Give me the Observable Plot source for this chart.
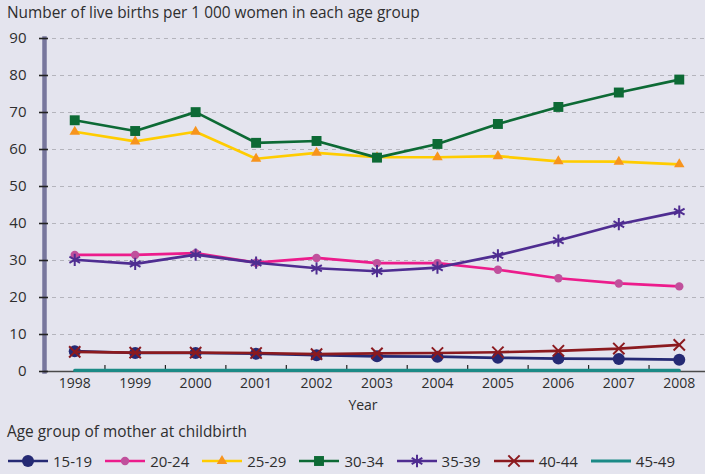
<!DOCTYPE html>
<html><head><meta charset="utf-8">
<script src="https://cdn.jsdelivr.net/npm/d3@7"></script>
<script src="https://cdn.jsdelivr.net/npm/@observablehq/plot@0.6"></script>
<style>
html,body{margin:0;padding:0;background:#e4e4ee;overflow:hidden;width:705px;height:474px;}
body{font-family:"Open Sans",sans-serif;color:#2e2e2e;position:relative;}
#title{position:absolute;left:7px;top:2px;font-size:15.4px;white-space:nowrap;}
#chart{position:absolute;left:0;top:25px;}
#legtitle{position:absolute;left:7px;top:421px;font-size:15.4px;white-space:nowrap;}
#legend{position:absolute;left:8px;top:451px;display:flex;align-items:center;font-size:15px;white-space:nowrap;}
.item{display:flex;align-items:center;margin-right:13px;}
.item svg{margin-right:5px;}
</style></head>
<body>
<div id="title">Number of live births per 1 000 women in each age group</div>
<div id="chart"></div>
<div id="legtitle">Age group of mother at childbirth</div>
<div id="legend"></div>
<script>
const years = [1998,1999,2000,2001,2002,2003,2004,2005,2006,2007,2008];
const ageGroups = ["15-19","20-24","25-29","30-34","35-39","40-44","45-49"];
const a1519 = [5.5,5.0,5.0,4.8,4.4,4.1,4.0,3.7,3.5,3.4,3.2];
const a2024 = [31.5,31.5,32.0,29.4,30.7,29.3,29.3,27.5,25.2,23.8,23.0];
const a2529 = [64.8,62.2,64.8,57.5,59.1,57.9,57.9,58.2,56.8,56.7,56.0];
const a3034 = [67.9,65.0,70.1,61.8,62.3,57.8,61.5,66.9,71.5,75.4,78.9];
const a3539 = [30.2,29.1,31.6,29.4,27.9,27.1,28.1,31.4,35.4,39.8,43.2];
const a4044 = [5.3,5.1,5.1,5.0,4.7,4.9,5.0,5.2,5.6,6.2,7.2];
const a4549 = [0.3,0.3,0.3,0.3,0.3,0.3,0.3,0.3,0.3,0.3,0.3];
const yTicks = [0,10,20,30,40,50,60,70,80,90];

const styles = {
  "15-19": {line:"#252a74", mark:"#252a74", symbol:"circle", r:6, fill:true},
  "20-24": {line:"#ec1c8c", mark:"#c0509c", symbol:"circle", r:4.2, fill:true},
  "25-29": {line:"#ffcc00", mark:"#f7941d", symbol:"triangle", r:3.9, fill:true},
  "30-34": {line:"#0d6a35", mark:"#0d6a35", symbol:"square", r:5.6, fill:true},
  "35-39": {line:"#4f2d91", mark:"#4f2d91", symbol:"asterisk", r:5.8, fill:false},
  "40-44": {line:"#8b1a1f", mark:"#8b1a1f", symbol:"times", r:5.2, fill:false},
  "45-49": {line:"#1b8a86", mark:null}
};
const seriesValues = [a1519,a2024,a2529,a3034,a3539,a4044,a4549];
const rows = [];
ageGroups.forEach((g,i)=>years.forEach((y,j)=>rows.push({group:g, year:y, value:seriesValues[i][j]})));
const boundaries = years.slice(0,-1).map(y=>y+0.5);

const H = 395, mT = 13, mB = 49;
const marks = [
  Plot.gridY(yTicks.filter(d=>d>0), {stroke:"#b4b4bc", strokeOpacity:1, strokeDasharray:"4,4", strokeWidth:1}),
  Plot.frame({anchor:"left", stroke:"#77769c", strokeWidth:4.5}),
  Plot.ruleY([0], {stroke:"#4a4a4a", strokeWidth:1.3}),
  Plot.tickX(boundaries, {x:d=>d, stroke:"#222", strokeWidth:1.2, insetTop:H-mT-mB-6}),
  Plot.axisY({ticks:yTicks, tickSize:9, dx:4, tickPadding:13, fontSize:15, stroke:"#222", strokeWidth:1.6, color:"#2e2e2e", label:null}),
  Plot.axisX({ticks:years, tickSize:0, tickPadding:7, fontSize:14, tickFormat:d=>String(d), label:null}),
  Plot.text(["Year"], {frameAnchor:"bottom", dy:38, dx:-12, fontSize:14, fill:"#2e2e2e"})
];
ageGroups.forEach(g=>{
  const s = styles[g];
  const data = rows.filter(d=>d.group===g);
  marks.push(Plot.line(data, {x:"year", y:"value", stroke:s.line, strokeWidth:g==="45-49"?3.2:2.7}));
  if (s.mark) {
    marks.push(Plot.dot(data, s.fill
      ? {x:"year", y:"value", symbol:()=>s.symbol, r:s.r, fill:s.mark, stroke:"none"}
      : {x:"year", y:"value", symbol:()=>s.symbol, r:s.r, stroke:s.mark, strokeWidth:2, fill:"none"}));
  }
});

const chart = Plot.plot({
  width:705, height:H, marginTop:mT, marginBottom:mB, marginLeft:44, marginRight:0,
  style:{background:"transparent", fontFamily:"'Open Sans',sans-serif", color:"#2e2e2e", overflow:"visible"},
  x:{type:"linear", domain:[1997.5,2008.5], range:[44,709], axis:null},
  y:{domain:[0,90], axis:null},
  symbol:{type:"identity"},
  marks
});
document.getElementById("chart").appendChild(chart);

// legend
const symMap = {circle:d3.symbolCircle, triangle:d3.symbolTriangle, square:d3.symbolSquare, asterisk:d3.symbolAsterisk, times:d3.symbolTimes};
const leg = d3.select("#legend");
ageGroups.forEach(g=>{
  const s = styles[g];
  const item = leg.append("div").attr("class","item");
  const svg = item.append("svg").attr("width",40).attr("height",16);
  svg.append("line").attr("x1",0).attr("x2",40).attr("y1",8).attr("y2",8).attr("stroke",s.line).attr("stroke-width",g==="45-49"?3.2:2.7);
  if (s.mark) {
    const p = svg.append("path").attr("transform","translate(20,8)")
      .attr("d", d3.symbol(symMap[s.symbol], Math.PI*s.r*s.r)());
    if (s.fill) p.attr("fill", s.mark); else p.attr("fill","none").attr("stroke",s.mark).attr("stroke-width",2);
  }
  item.append("span").text(g);
});
</script>
</body></html>
